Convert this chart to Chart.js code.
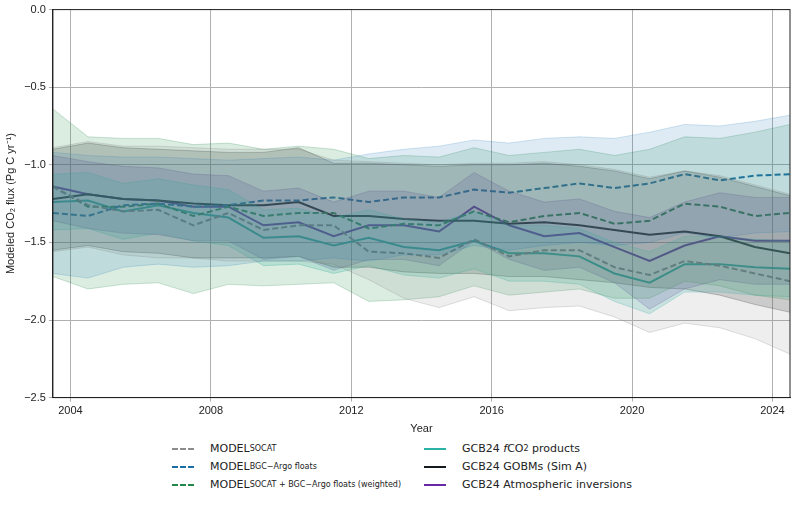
<!DOCTYPE html>
<html>
<head>
<meta charset="utf-8">
<script src="https://cdn.jsdelivr.net/npm/chart.js@4.4.1/dist/chart.umd.min.js"></script>
<style>
  body { margin: 0; background: #fff; font-family: "DejaVu Sans", sans-serif; }
  #wrap { position: relative; width: 800px; height: 440px; }
  #legend { position: absolute; left: 172px; top: 440px; font-size: 11px; color: #222; }
  .col { position: absolute; top: 0; white-space: nowrap; }
  .row { height: 18px; line-height: 18px; display: flex; align-items: center; }
  .sw { width: 22px; height: 0; margin-right: 16px; border-top: 2.5px solid; }
  .sw.dash { border-top-style: dashed; }
  sub { font-size: 8px; vertical-align: -1px; }
</style>
</head>
<body>
<div id="wrap"><canvas id="chart" width="800" height="440"></canvas></div>
<div id="legend">
  <div class="col" style="left:0">
    <div class="row"><span class="sw dash" style="border-color:#8c8c8c"></span>MODEL<sub>SOCAT</sub></div>
    <div class="row"><span class="sw dash" style="border-color:#1b6ea5"></span>MODEL<sub>BGC−Argo floats</sub></div>
    <div class="row"><span class="sw dash" style="border-color:#23874a"></span>MODEL<sub>SOCAT + BGC−Argo floats (weighted)</sub></div>
  </div>
  <div class="col" style="left:252px">
    <div class="row"><span class="sw" style="border-color:#2ab3a6"></span>GCB24&nbsp;<i>f</i>CO<sub>2</sub>&nbsp;products</div>
    <div class="row"><span class="sw" style="border-color:#151a1e"></span>GCB24 GOBMs (Sim A)</div>
    <div class="row"><span class="sw" style="border-color:#6628a6"></span>GCB24 Atmospheric inversions</div>
  </div>
</div>
<script>
// years (mid-year points)
const years = [2003.5, 2004.5, 2005.5, 2006.5, 2007.5, 2008.5, 2009.5, 2010.5, 2011.5, 2012.5, 2013.5,
               2014.5, 2015.5, 2016.5, 2017.5, 2018.5, 2019.5, 2020.5, 2021.5, 2022.5, 2023.5, 2024.5];
const xTicks = [2004, 2008, 2012, 2016, 2020, 2024];

const socat     = [-1.14, -1.26, -1.30, -1.29, -1.39, -1.31, -1.42, -1.39, -1.39, -1.56, -1.57, -1.60, -1.48, -1.59, -1.55, -1.55, -1.66, -1.71, -1.62, -1.65, -1.70, -1.75];
const socatHi   = [-0.89, -0.85, -0.88, -0.88, -0.89, -0.90, -0.90, -0.90, -0.97, -0.98, -0.99, -1.00, -0.99, -0.99, -0.98, -1.00, -1.03, -1.08, -1.04, -1.07, -1.13, -1.19];
const socatLo   = [-1.56, -1.53, -1.58, -1.60, -1.60, -1.62, -1.62, -1.62, -1.64, -1.74, -1.86, -1.92, -1.85, -1.94, -1.92, -1.91, -1.98, -2.08, -2.02, -2.05, -2.12, -2.22];
const argo      = [-1.31, -1.33, -1.26, -1.25, -1.27, -1.26, -1.23, -1.23, -1.21, -1.24, -1.21, -1.21, -1.16, -1.18, -1.15, -1.12, -1.15, -1.12, -1.06, -1.10, -1.07, -1.06];
const argoHi    = [-0.92, -0.94, -0.95, -0.95, -0.96, -0.97, -0.96, -0.95, -0.97, -0.93, -0.90, -0.88, -0.84, -0.86, -0.83, -0.82, -0.83, -0.79, -0.74, -0.75, -0.72, -0.68];
const argoLo    = [-1.70, -1.73, -1.66, -1.64, -1.66, -1.65, -1.62, -1.62, -1.60, -1.62, -1.58, -1.58, -1.52, -1.55, -1.52, -1.50, -1.52, -1.50, -1.44, -1.47, -1.44, -1.43];
const weighted  = [-1.14, -1.27, -1.27, -1.25, -1.33, -1.27, -1.33, -1.31, -1.31, -1.41, -1.38, -1.39, -1.30, -1.37, -1.33, -1.31, -1.38, -1.36, -1.25, -1.27, -1.33, -1.31];
const weightHi  = [-0.64, -0.82, -0.83, -0.83, -0.87, -0.86, -0.90, -0.88, -0.90, -0.96, -0.94, -0.95, -0.89, -0.94, -0.92, -0.90, -0.94, -0.90, -0.82, -0.83, -0.79, -0.74];
const weightLo  = [-1.72, -1.80, -1.77, -1.76, -1.83, -1.77, -1.78, -1.77, -1.76, -1.88, -1.87, -1.85, -1.78, -1.84, -1.82, -1.80, -1.86, -1.86, -1.75, -1.78, -1.84, -1.87];
const fco2      = [-1.24, -1.23, -1.30, -1.26, -1.31, -1.34, -1.47, -1.46, -1.52, -1.47, -1.53, -1.55, -1.49, -1.57, -1.57, -1.59, -1.70, -1.76, -1.64, -1.64, -1.66, -1.67];
const fco2Hi    = [-1.06, -1.05, -1.12, -1.09, -1.13, -1.16, -1.29, -1.28, -1.34, -1.29, -1.35, -1.37, -1.30, -1.39, -1.39, -1.41, -1.50, -1.56, -1.46, -1.46, -1.48, -1.49];
const fco2Lo    = [-1.42, -1.41, -1.48, -1.44, -1.49, -1.52, -1.65, -1.64, -1.70, -1.65, -1.71, -1.73, -1.67, -1.75, -1.75, -1.77, -1.88, -1.96, -1.82, -1.82, -1.84, -1.85];
const gobm      = [-1.22, -1.19, -1.22, -1.23, -1.25, -1.26, -1.26, -1.24, -1.33, -1.33, -1.35, -1.36, -1.36, -1.38, -1.37, -1.39, -1.42, -1.45, -1.43, -1.46, -1.53, -1.57];
const gobmHi    = [-0.90, -0.86, -0.89, -0.90, -0.91, -0.92, -0.92, -0.89, -0.99, -0.99, -1.00, -1.01, -1.00, -1.00, -0.99, -1.01, -1.04, -1.09, -1.04, -1.08, -1.14, -1.20];
const gobmLo    = [-1.55, -1.52, -1.56, -1.57, -1.60, -1.60, -1.60, -1.59, -1.66, -1.66, -1.69, -1.70, -1.70, -1.72, -1.72, -1.74, -1.76, -1.79, -1.80, -1.84, -1.90, -1.95];
const inv       = [-1.14, -1.19, -1.22, -1.23, -1.27, -1.27, -1.39, -1.37, -1.46, -1.39, -1.39, -1.43, -1.27, -1.39, -1.46, -1.44, -1.53, -1.62, -1.52, -1.46, -1.49, -1.49];
const invHi     = [-0.94, -0.98, -1.01, -1.02, -1.06, -1.07, -1.17, -1.15, -1.24, -1.17, -1.17, -1.21, -1.05, -1.17, -1.24, -1.22, -1.30, -1.34, -1.24, -1.18, -1.21, -1.21];
const invLo     = [-1.36, -1.41, -1.44, -1.45, -1.49, -1.49, -1.61, -1.59, -1.68, -1.61, -1.61, -1.65, -1.49, -1.61, -1.68, -1.66, -1.76, -1.93, -1.80, -1.74, -1.77, -1.77];

const pts = arr => arr.map((v, i) => ({ x: years[i], y: v }));

function band(hi, lo, fillColor, edgeColor) {
  return [
    { data: pts(hi), fill: '+1', backgroundColor: fillColor, borderColor: edgeColor, borderWidth: 0.8, pointRadius: 0, tension: 0 },
    { data: pts(lo), fill: false, borderColor: edgeColor, borderWidth: 0.8, pointRadius: 0, tension: 0 }
  ];
}
function line(arr, color, dashed) {
  return { data: pts(arr), fill: false, borderColor: color, borderWidth: 2, borderDash: dashed ? [6, 3] : [], pointRadius: 0, tension: 0 };
}

const datasets = [
  ...band(socatHi, socatLo, 'rgba(140,140,140,0.15)', 'rgba(120,120,120,0.3)'),
  ...band(argoHi, argoLo, 'rgba(31,119,180,0.15)', 'rgba(31,119,180,0.25)'),
  ...band(weightHi, weightLo, 'rgba(40,140,80,0.17)', 'rgba(40,140,80,0.3)'),
  ...band(fco2Hi, fco2Lo, 'rgba(42,179,166,0.2)', 'rgba(42,179,166,0.35)'),
  ...band(gobmHi, gobmLo, 'rgba(50,50,50,0.2)', 'rgba(40,40,40,0.35)'),
  ...band(invHi, invLo, 'rgba(102,40,166,0.18)', 'rgba(102,40,166,0.3)'),
  line(socat, '#8c8c8c', true),
  line(argo, '#1b6ea5', true),
  line(weighted, '#23874a', true),
  line(fco2, '#2ab3a6', false),
  line(gobm, '#151a1e', false),
  line(inv, '#6628a6', false)
];

new Chart(document.getElementById('chart'), {
  type: 'line',
  data: { datasets },
  options: {
    responsive: false,
    animation: false,
    layout: { padding: { top: 6, right: 10, left: 0, bottom: 0 } },
    plugins: { legend: { display: false }, tooltip: { enabled: false } },
    scales: {
      x: {
        type: 'linear', min: 2003.5, max: 2024.5,
        afterBuildTicks: axis => { axis.ticks = xTicks.map(v => ({ value: v })); },
        ticks: { color: '#222', font: { size: 11 }, callback: v => String(v) },
        grid: { color: '#b0b0b0', drawTicks: true, tickLength: 4 },
        border: { color: '#222', width: 1 },
        title: { display: true, text: 'Year', color: '#222', font: { size: 11 }, padding: { top: 2 } }
      },
      y: {
        min: -2.5, max: 0,
        ticks: { stepSize: 0.5, color: '#222', font: { size: 11 }, callback: v => v.toFixed(1).replace('-', '−') },
        grid: { color: '#b0b0b0', tickLength: 4 },
        border: { color: '#222', width: 1 },
        title: { display: true, text: 'Modeled CO₂ flux (Pg C yr⁻¹)', color: '#222', font: { size: 11 } }
      }
    }
  },
  plugins: [{
    id: 'frame',
    afterDraw(c) {
      const a = c.chartArea, g = c.ctx;
      g.save(); g.strokeStyle = '#222'; g.lineWidth = 1;
      g.strokeRect(a.left, a.top, a.right - a.left, a.bottom - a.top);
      g.restore();
    }
  }]
});
</script>
</body>
</html>
